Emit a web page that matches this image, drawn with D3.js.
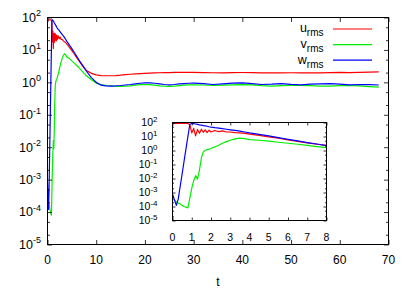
<!DOCTYPE html>
<html>
<head>
<meta charset="utf-8">
<script src="https://cdn.jsdelivr.net/npm/d3@7"></script>
<style>
  body { margin: 0; background: #fff; }
  text { font-family: "Liberation Sans", Arial, Helvetica, sans-serif; fill: #000; }
</style>
</head>
<body>
<svg id="chart" width="415" height="291"></svg>
<script>
// time samples shared by all three series
const T = [0,0.1,0.2,0.3,0.4,0.5,0.6,0.7,0.8,0.9,1.0,1.1,1.2,1.3,1.4,1.5,1.6,1.7,1.8,1.9,2.0,
  2.2,2.4,2.6,2.8,3.0,3.25,3.5,3.75,4,4.5,5,5.5,6,6.5,7,7.5,8,
  9,10,11,12,13,14,15,16,17,18,19,20,21,22,23,24,25,26,27,28,29,30,
  32,34,36,38,40,42,44,46,48,50,52,54,56,58,60,62,64,66,68];

const uRms = [85,85,85,85,85,85,85,85,85,70,18,38,11,32,17,33,20,30,19,28,21,
  27,22,25,21,21,19,18,16.5,15,12,9.5,7.5,5.8,4.5,3.5,2.8,2.3,
  1.9,1.7,1.62,1.6,1.6,1.62,1.66,1.72,1.78,1.83,1.87,1.9,1.93,1.96,1.98,2.0,2.0,2.02,2.03,2.03,2.03,2.02,
  2.0,1.98,1.97,1.99,2.01,2.0,1.97,1.96,1.97,1.98,1.96,1.95,1.97,2.0,2.02,2.0,2.03,2.07,2.1];

const vRms = [3.5e-4,2.8e-4,2.2e-4,1.8e-4,1.5e-4,1.2e-4,1.0e-4,9e-5,8e-5,4e-4,2e-3,7e-3,1.6e-2,9e-3,4e-2,0.3,0.8,1.05,1.15,1.25,1.4,
  1.8,2.4,3.3,4.3,5.4,6.8,7.6,7.0,6.0,5.4,4.6,3.9,3.3,2.8,2.3,1.9,1.6,
  1.2,0.95,0.85,0.8,0.78,0.76,0.75,0.76,0.78,0.82,0.85,0.86,0.85,0.82,0.78,0.76,0.75,0.76,0.79,0.82,0.84,0.84,
  0.83,0.8,0.82,0.84,0.85,0.84,0.79,0.77,0.79,0.81,0.8,0.79,0.77,0.77,0.79,0.8,0.78,0.74,0.71];

const wRms = [8e-4,3e-4,1.2e-4,3.5e-4,2.8e-3,2.1e-2,0.17,1.3,10,75,85,82,78,74,68,64,60,57,54,50,47,
  43,40,36,33,30,27,24,21,18,14,11,8.3,6.3,4.8,3.7,2.9,2.2,
  1.4,1.0,0.82,0.78,0.77,0.78,0.8,0.83,0.86,0.9,0.94,0.97,0.97,0.94,0.9,0.86,0.84,0.86,0.9,0.92,0.94,0.95,
  0.92,0.86,0.9,0.95,0.97,0.92,0.86,0.88,0.92,0.87,0.84,0.88,0.9,0.92,0.88,0.84,0.86,0.85,0.83];

const seriesNames = ["u", "v", "w"];
const seriesColors = ["#ff0000", "#00ee00", "#0000ff"];
const seriesData = [uRms, vRms, wRms];

const xTicks = [0,10,20,30,40,50,60,70];
const yExps = [-5,-4,-3,-2,-1,0,1,2];
const insetXTicks = [0,1,2,3,4,5,6,7,8];

const svg = d3.select("#chart");

// minor log ticks at 2 and 5 of each decade
const minorTicks = [];
yExps.slice(0, -1).forEach(e => { minorTicks.push(2 * 10 ** e, 5 * 10 ** e); });

// main plot scales
const x = d3.scaleLinear().domain([0, 70]).range([47.5, 388.5]);
const y = d3.scaleLog().domain([1e-5, 1e2]).range([244.5, 17.5]);

// inset scales
const xi = d3.scaleLinear().domain([0, 8]).range([172.5, 326.5]);
const yi = d3.scaleLog().domain([1e-5, 1e2]).range([220.5, 122.5]);

function drawFrame(sx, sy, major, ticks, len, minLen) {
  const [x0, x1] = sx.range();
  const [y0, y1] = sy.range();
  const g = svg.append("g");
  const ax = [
    [d3.axisBottom(sx), y0, "x"], [d3.axisTop(sx), y1, "x"]
  ];
  ax.forEach(([a, pos]) => {
    g.append("g").attr("transform", `translate(0,${pos})`)
      .call(a.tickValues(ticks).tickSize(-len).tickFormat(""))
      .call(s => s.select(".domain").remove());
  });
  [[d3.axisLeft, x0], [d3.axisRight, x1]].forEach(([a, pos]) => {
    g.append("g").attr("transform", `translate(${pos},0)`)
      .call(a(sy).tickValues(major).tickSize(-len).tickFormat(""))
      .call(s => s.select(".domain").remove());
    g.append("g").attr("transform", `translate(${pos},0)`)
      .call(a(sy).tickValues(minorTicks).tickSize(-minLen).tickFormat(""))
      .call(s => s.select(".domain").remove());
  });
  g.append("rect")
    .attr("x", x0).attr("y", y1)
    .attr("width", x1 - x0).attr("height", y0 - y1)
    .attr("fill", "none").attr("stroke", "#000").attr("stroke-width", 1);
  g.selectAll("line").attr("stroke", "#000").attr("stroke-width", 0.8);
}

function drawLines(sx, sy, clipId) {
  const [x0, x1] = sx.range();
  const [y0, y1] = sy.range();
  svg.append("clipPath").attr("id", clipId)
    .append("rect").attr("x", x0).attr("y", y1).attr("width", x1 - x0).attr("height", y0 - y1);
  const line = d3.line().x(d => sx(d[0])).y(d => sy(d[1]));
  const g = svg.append("g").attr("clip-path", `url(#${clipId})`);
  seriesData.forEach((vals, k) => {
    g.append("path")
      .datum(T.map((t, i) => [t, vals[i]]))
      .attr("d", line)
      .attr("fill", "none")
      .attr("stroke", seriesColors[k])
      .attr("stroke-width", 1.2)
      .attr("stroke-linejoin", "round");
  });
}

// ---- main plot ----
drawLines(x, y, "clipMain");
drawFrame(x, y, yExps.map(e => 10 ** e), xTicks, 4.5, 2.5);

yExps.forEach(e => {
  const t = svg.append("text")
    .attr("x", 41).attr("y", y(10 ** e) + 4.4)
    .attr("text-anchor", "end").style("font-size", "12.5px");
  t.append("tspan").text("10");
  t.append("tspan").attr("dy", -5.5).style("font-size", "9px").text(e);
});

xTicks.forEach(v => {
  svg.append("text")
    .attr("x", x(v)).attr("y", 263.5)
    .attr("text-anchor", "middle").style("font-size", "12px")
    .text(v);
});

svg.append("text")
  .attr("x", (x.range()[0] + x.range()[1]) / 2).attr("y", 286)
  .attr("text-anchor", "middle").style("font-size", "12px")
  .text("t");

// legend
seriesNames.forEach((n, k) => {
  const ly = 29 + k * 15.6;
  const t = svg.append("text")
    .attr("x", 323.5).attr("y", ly + 3.4)
    .attr("text-anchor", "end").style("font-size", "12.5px");
  t.append("tspan").text(n);
  t.append("tspan").attr("dy", 4).style("font-size", "10px").text("rms");
  svg.append("line")
    .attr("x1", 333).attr("x2", 372).attr("y1", ly).attr("y2", ly)
    .attr("stroke", seriesColors[k]).attr("stroke-width", 1.2);
});

// ---- inset ----
svg.append("rect")
  .attr("x", xi.range()[0]).attr("y", yi.range()[1])
  .attr("width", xi.range()[1] - xi.range()[0]).attr("height", yi.range()[0] - yi.range()[1])
  .attr("fill", "#fff");
drawLines(xi, yi, "clipInset");
drawFrame(xi, yi, yExps.map(e => 10 ** e), insetXTicks, 3, 1.5);

yExps.forEach(e => {
  const t = svg.append("text")
    .attr("x", 157.5).attr("y", yi(10 ** e) + 3.6)
    .attr("text-anchor", "end").style("font-size", "10.5px");
  t.append("tspan").text("10");
  t.append("tspan").attr("dy", -4.5).style("font-size", "8px").text(e);
});

insetXTicks.forEach(v => {
  svg.append("text")
    .attr("x", xi(v)).attr("y", 240.8)
    .attr("text-anchor", "middle").style("font-size", "10.5px")
    .text(v);
});
</script>
</body>
</html>
